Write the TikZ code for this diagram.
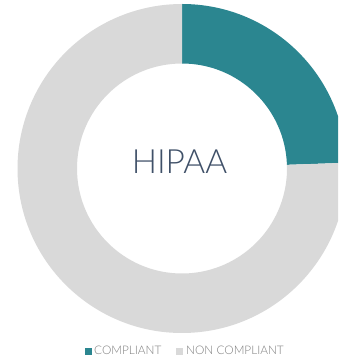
\documentclass[tikz,border=0pt]{standalone}
\usepackage{fontspec}
\setmainfont{Lato}
\newfontfamily\titlefont{Lato Light}
\usepackage{tikz}
\usetikzlibrary{positioning}

\definecolor{compl}{HTML}{2B8690}
\definecolor{noncompl}{HTML}{D9D9D9}
\definecolor{titlecol}{HTML}{3F5068}
\definecolor{legcol}{HTML}{7F7F7F}

\begin{document}
\begin{tikzpicture}[x=1pt,y=1pt,
        legbox/.style={inner sep=0pt,minimum size=7pt},
        legtext/.style={inner sep=0pt,anchor=base west,text=legcol,font=\titlefont\fontsize{11.8}{13}\selectfont},
        node distance=3pt]

  \clip (0,0) rectangle (338,361);
  \fill[white] (0,0) rectangle (338,361);

  \coordinate (c) at (182,192.5);
  \def\ro{164.5}
  \def\ri{105}

  % donut
  \fill[compl] ([shift={(90:\ro)}]c) arc[start angle=90,end angle=2,radius=\ro]
        -- ([shift={(2:\ri)}]c) arc[start angle=2,end angle=90,radius=\ri] -- cycle;
  \fill[noncompl] ([shift={(2:\ro)}]c) arc[start angle=2,end angle=-270,radius=\ro]
        -- ([shift={(90:\ri)}]c) arc[start angle=90,end angle=362,radius=\ri] -- cycle;

  \node[anchor=base,inner sep=0pt,text=titlecol,font=\titlefont\fontsize{33.4}{36}\selectfont]
        (title) at (179.5,187.7) {HIPAA};

  % legend
  \node[legbox,fill=compl] (sqc) at (88.5,9.5) {};
  \node[legtext] (txtc) at (94,6) {COMPLIANT};
  \node[legbox,fill=noncompl] (sqn) at (179.5,9.5) {};
  \node[legtext] (txtn) at (186,6) {NON COMPLIANT};

\end{tikzpicture}
\end{document}
